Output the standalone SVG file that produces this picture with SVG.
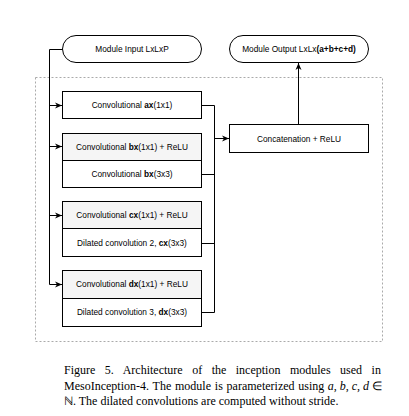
<svg xmlns="http://www.w3.org/2000/svg" width="409" height="416" viewBox="0 0 409 416">
<style>
.box{fill:#fff;stroke:#000;stroke-width:1}
.gray{fill:#f5f5f5;stroke:#000;stroke-width:1}
.lbl{font-family:"Liberation Sans",Arial,sans-serif;font-size:8.3px;fill:#000;text-anchor:middle}
.b{font-weight:bold}
.con{fill:none;stroke:#000;stroke-width:1}
.cap{font-family:"Liberation Serif","Times New Roman",serif;font-size:12px;fill:#000}
.it{font-style:italic}
</style>
<defs>
<marker id="arr" markerWidth="8" markerHeight="8" refX="7" refY="4" orient="auto" markerUnits="userSpaceOnUse">
<path d="M0,1 L7,4 L0,7 L2,4 Z" fill="#000"/>
</marker>
</defs>
<rect x="35.5" y="77.5" width="347" height="264" fill="none" stroke="#aaa" stroke-width="1" stroke-dasharray="2,2"/>
<g id="input">
<rect class="box" x="62.5" y="35.5" width="139" height="27" rx="13.5"/>
<text class="lbl" x="132" y="52">Module Input LxLxP</text>
</g>
<g id="output">
<rect class="box" x="229.5" y="35.5" width="139" height="27" rx="13.5"/>
<text class="lbl" x="299" y="52">Module Output LxLx<tspan class="b">(a+b+c+d)</tspan></text>
</g>
<g id="conv-a">
<rect class="box" x="62.5" y="91.5" width="139" height="27"/>
<text class="lbl" x="132" y="108">Convolutional <tspan class="b">ax</tspan>(1x1)</text>
</g>
<g id="conv-b">
<rect class="gray" x="62.5" y="133.5" width="139" height="27"/>
<text class="lbl" x="132" y="150">Convolutional <tspan class="b">bx</tspan>(1x1) + ReLU</text>
<rect class="box" x="62.5" y="160.5" width="139" height="27"/>
<text class="lbl" x="132" y="177">Convolutional <tspan class="b">bx</tspan>(3x3)</text>
</g>
<g id="conv-c">
<rect class="gray" x="62.5" y="201.5" width="139" height="27"/>
<text class="lbl" x="132" y="218">Convolutional <tspan class="b">cx</tspan>(1x1) + ReLU</text>
<rect class="box" x="62.5" y="228.5" width="139" height="28"/>
<text class="lbl" x="132" y="246">Dilated convolution 2, <tspan class="b">cx</tspan>(3x3)</text>
</g>
<g id="conv-d">
<rect class="gray" x="62.5" y="270.5" width="139" height="28"/>
<text class="lbl" x="132" y="287">Convolutional <tspan class="b">dx</tspan>(1x1) + ReLU</text>
<rect class="box" x="62.5" y="298.5" width="139" height="28"/>
<text class="lbl" x="132" y="315">Dilated convolution 3, <tspan class="b">dx</tspan>(3x3)</text>
</g>
<g id="concat">
<rect class="box" x="229.5" y="124.5" width="139" height="28"/>
<text class="lbl" x="299" y="141.5">Concatenation + ReLU</text>
</g>
<g id="connectors">
<path class="con" d="M62.5,49.5 H49.5 V284.5"/>
<path class="con" d="M49.5,105.5 H62" marker-end="url(#arr)"/>
<path class="con" d="M49.5,146.5 H62" marker-end="url(#arr)"/>
<path class="con" d="M49.5,215.5 H62" marker-end="url(#arr)"/>
<path class="con" d="M49.5,284.5 H62" marker-end="url(#arr)"/>
<path class="con" d="M201.5,105.5 H214.5 V312.5 H201.5"/>
<path class="con" d="M201.5,174.5 H214.5"/>
<path class="con" d="M201.5,243.5 H214.5"/>
<path class="con" d="M214.5,138.5 H229" marker-end="url(#arr)"/>
<path class="con" d="M298.5,124.5 V63" marker-end="url(#arr)"/>
</g>
<g id="caption">
<text class="cap" x="64" y="374" word-spacing="6.5">Figure 5. Architecture of the inception modules used in</text>
<text class="cap" x="64" y="389.5" word-spacing="0.8">MesoInception-4. The module is parameterized using</text>
<text class="cap" x="382" y="389.5" text-anchor="end"><tspan class="it">a</tspan>, <tspan class="it">b</tspan>, <tspan class="it">c</tspan>, <tspan class="it">d</tspan> ∈</text>
<text class="cap" x="64" y="405">ℕ. The dilated convolutions are computed without stride.</text>
</g>
</svg>
